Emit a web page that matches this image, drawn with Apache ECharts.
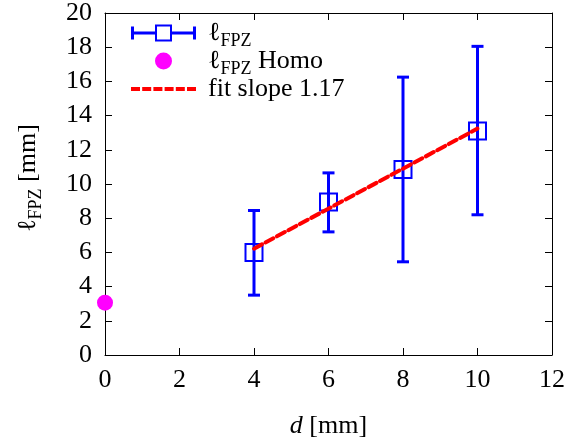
<!DOCTYPE html>
<html>
<head>
<meta charset="utf-8">
<script src="https://cdn.jsdelivr.net/npm/echarts@6/dist/echarts.min.js"></script>
<style>
  html, body { margin: 0; padding: 0; background: #fff; }
  #chart { width: 568px; height: 444px; }
</style>
</head>
<body>
<div id="chart"></div>
<script>
// Measured fracture process zone length versus notch depth
const dVals = [4, 6, 8, 10];
const lfpzMean = [6.0, 8.95, 10.85, 13.1];
const lfpzLow = [3.5, 7.2, 5.45, 8.2];
const lfpzHigh = [8.45, 10.65, 16.25, 18.05];

// Homogeneous reference value
const homoD = [0];
const homoL = [3.06];

// Linear fit endpoints (slope 1.17)
const fitD = [4, 10];
const fitL = [6.22, 13.24];

const xTicks = { min: 0, max: 12, interval: 2 };
const yTicks = { min: 0, max: 20, interval: 2 };

const FONT = '"Liberation Serif", "DejaVu Serif", serif';
const FS = 26;
const BLUE = '#0000ff';
const RED = '#ff0000';
const MAGENTA = '#ff00ff';

const NAME_MAIN = 'lfpz';
const NAME_HOMO = 'lfpzHomo';
const NAME_FIT = 'fit';

// error-bar legend glyph: capped bar with an open square in the middle
const errIcon = 'path://M0 7L24 7L24 10L0 10Z M41 7L65 7L65 10L41 10Z M0 2L3 2L3 15L0 15Z M62 2L65 2L65 15L62 15Z M24 0L41 0L41 17L24 17Z M26 2L26 15L39 15L39 2Z';
// dashed-line legend glyph
const dashIcon = 'path://M0 0H9V4H0Z M11.2 0H20.2V4H11.2Z M22.4 0H31.4V4H22.4Z M33.6 0H42.6V4H33.6Z M44.8 0H53.8V4H44.8Z M56 0H65V4H56Z';

const richText = {
  l: { fontFamily: FONT, fontSize: FS, color: '#000', verticalAlign: 'bottom', lineHeight: 26 },
  s: { fontFamily: FONT, fontSize: 18, color: '#000', verticalAlign: 'bottom', lineHeight: 18, padding: [0, 0, -4, 0] },
  n: { fontFamily: FONT, fontSize: FS, color: '#000', verticalAlign: 'bottom', lineHeight: 26 }
};

const legendLabels = {};
legendLabels[NAME_MAIN] = '{l|ℓ}{s|FPZ}';
legendLabels[NAME_HOMO] = '{l|ℓ}{s|FPZ}{n| Homo}';
legendLabels[NAME_FIT] = '{n|fit slope 1.17}';

const errData = dVals.map((d, i) => [d, lfpzMean[i], lfpzLow[i], lfpzHigh[i]]);
const homoData = homoD.map((d, i) => [d, homoL[i]]);
const fitData = fitD.map((d, i) => [d, fitL[i]]);

const chart = echarts.init(document.getElementById('chart'), null, { renderer: 'canvas' });

const axisCommon = {
  axisLine: { show: true, onZero: false, lineStyle: { color: '#000', width: 1 } },
  axisTick: { show: true, inside: true, length: 7, lineStyle: { color: '#000', width: 1 } },
  splitLine: { show: false }
};

chart.setOption({
  animation: false,
  backgroundColor: '#fff',
  grid: { left: 105, right: 16, top: 12, bottom: 89 },
  legend: {
    left: 126,
    top: 15,
    orient: 'vertical',
    itemWidth: 65,
    itemHeight: 17,
    itemGap: -2,
    selectedMode: false,
    data: [
      { name: NAME_MAIN, icon: errIcon },
      { name: NAME_HOMO, icon: 'circle' },
      { name: NAME_FIT, icon: dashIcon }
    ],
    formatter: name => legendLabels[name],
    textStyle: { fontFamily: FONT, fontSize: FS, color: '#000', padding: [0, 0, 0, 7], rich: richText }
  },
  xAxis: [
    Object.assign({
      type: 'value', position: 'bottom',
      min: xTicks.min, max: xTicks.max, interval: xTicks.interval,
      name: '{i|d} [mm]',
      nameLocation: 'middle',
      nameGap: 58,
      nameTextStyle: {
        fontFamily: FONT, fontSize: FS, color: '#000',
        rich: { i: { fontFamily: FONT, fontSize: FS, fontStyle: 'italic', color: '#000' } }
      },
      axisLabel: { fontFamily: FONT, fontSize: FS, color: '#000', margin: 12 }
    }, axisCommon),
    Object.assign({
      type: 'value', position: 'top',
      min: xTicks.min, max: xTicks.max, interval: xTicks.interval,
      axisLabel: { show: false }
    }, axisCommon)
  ],
  yAxis: [
    Object.assign({
      type: 'value', position: 'left',
      min: yTicks.min, max: yTicks.max, interval: yTicks.interval,
      name: '{l|ℓ}{s|FPZ}{n| [mm]}',
      nameLocation: 'middle',
      nameGap: 64,
      nameRotate: 90,
      nameTextStyle: { fontFamily: FONT, fontSize: FS, color: '#000', rich: richText, padding: [0, 0, 0, 12] },
      axisLabel: { fontFamily: FONT, fontSize: FS, color: '#000', margin: 13 }
    }, axisCommon),
    Object.assign({
      type: 'value', position: 'right',
      min: yTicks.min, max: yTicks.max, interval: yTicks.interval,
      axisLabel: { show: false }
    }, axisCommon)
  ],
  series: [
    {
      name: NAME_MAIN,
      type: 'custom',
      color: BLUE,
      clip: false,
      z: 3,
      encode: { x: 0, y: [1, 2, 3] },
      data: errData,
      renderItem: (params, api) => {
        const x = api.value(0);
        const pM = api.coord([x, api.value(1)]);
        const pLo = api.coord([x, api.value(2)]);
        const pHi = api.coord([x, api.value(3)]);
        const cap = 6;
        const half = 8.5;
        const stroke = { stroke: BLUE, lineWidth: 3, fill: null };
        return {
          type: 'group',
          children: [
            { type: 'line', shape: { x1: pLo[0], y1: pLo[1], x2: pHi[0], y2: pHi[1] }, style: stroke },
            { type: 'line', shape: { x1: pLo[0] - cap, y1: pLo[1], x2: pLo[0] + cap, y2: pLo[1] }, style: stroke },
            { type: 'line', shape: { x1: pHi[0] - cap, y1: pHi[1], x2: pHi[0] + cap, y2: pHi[1] }, style: stroke },
            { type: 'rect', shape: { x: pM[0] - half, y: pM[1] - half, width: 2 * half, height: 2 * half },
              style: { stroke: BLUE, lineWidth: 2, fill: null } }
          ]
        };
      }
    },
    {
      name: NAME_HOMO,
      type: 'scatter',
      color: MAGENTA,
      symbol: 'circle',
      symbolSize: 16,
      clip: false,
      z: 4,
      itemStyle: { color: MAGENTA, opacity: 1 },
      data: homoData
    },
    {
      name: NAME_FIT,
      type: 'line',
      color: RED,
      symbol: 'none',
      z: 5,
      lineStyle: { color: RED, width: 4, type: [9, 4], cap: 'round' },
      data: fitData
    }
  ]
});
</script>
</body>
</html>
